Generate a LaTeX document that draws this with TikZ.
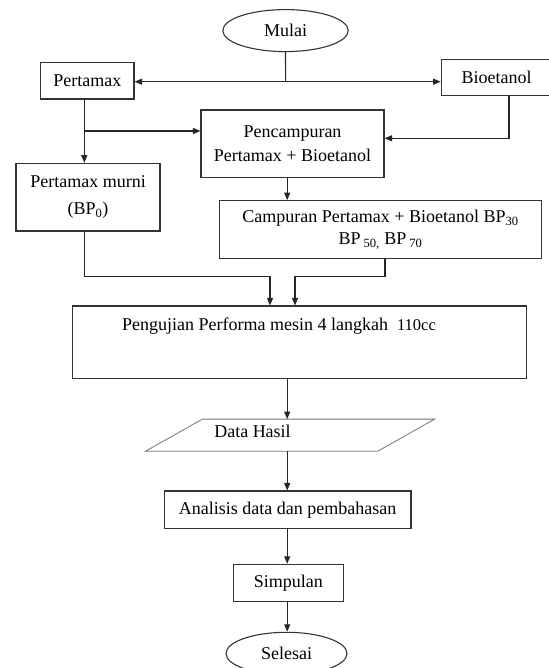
\documentclass[tikz,border=0pt]{standalone}
\usepackage{fontspec}
\setmainfont{Liberation Serif}
\usetikzlibrary{arrows.meta,shapes.geometric,calc}
\begin{document}
\begin{tikzpicture}[x=1pt,y=-1pt,
  every node/.style={font=\fontsize{18}{21.6}\selectfont, text=black},
  box/.style={draw=black!80, line width=1.1pt, rectangle, inner sep=0pt, align=center},
  term/.style={draw=black!80, line width=1.1pt, ellipse, inner sep=0pt},
  conn/.style={draw=black!85, line width=1.1pt},
  arr/.style={conn, -{Triangle[length=7.5pt,width=6pt]}}]
\useasboundingbox (0,0) rectangle (548,668);

% nodes
\node[term, minimum width=125.4pt, minimum height=42pt] (mulai) at (285.5,30.6) {Mulai};
\node[box, minimum width=93.3pt, minimum height=36.3pt] (pertamax) at (87.35,80.85) {Pertamax};
\node[box, minimum width=110.7pt, minimum height=36.4pt] (bio) at (496.6,77.5) {Bioetanol};
\node[box, minimum width=183pt, minimum height=67.3pt] (pencamp) at (292.5,143.65) {Pencampuran\\[3pt]Pertamax + Bioetanol};
\node[box, minimum width=144pt, minimum height=67.7pt] (murni) at (88,197.15) {Pertamax murni\\[5pt](BP\textsubscript{0})};
\node[box, minimum width=322.4pt, minimum height=58pt] (camp) at (380.5,229.7) {Campuran Pertamax + Bioetanol BP\textsubscript{30}\\BP\,\textsubscript{50,} BP\,\textsubscript{70}};
\node[box, minimum width=453.6pt, minimum height=72.4pt] (peng) at (299.5,342.2) {};
\node (pengtxt) at (279,326) {Pengujian Performa mesin 4 langkah\ \ {\fontsize{16.5}{20}\selectfont 110cc}};
\node[inner sep=0pt, minimum width=288.8pt, minimum height=31.7pt] (data) at (290.1,435.15) {};
\draw[draw=black!55, line width=0.8pt] ($(data.north west)+(57,0)$) -- (data.north east) -- ($(data.south east)-(57,0)$) -- (data.south west) -- cycle;
\node (datatxt) at (252.5,431) {Data Hasil};
\node[box, minimum width=246.7pt, minimum height=37.7pt] (ana) at (287.65,509.85) {Analisis data dan pembahasan};
\node[box, minimum width=110pt, minimum height=37.4pt] (simp) at (288.3,583) {Simpulan};
\node[term, minimum width=121pt, minimum height=42.4pt] (sel) at (286.5,653.5) {Selesai};

% connectors
\coordinate (j1) at (285.6,81.7);
\draw[conn] (mulai.south) -- (j1);
\draw[arr] (j1) -- (j1 -| pertamax.east);
\draw[arr] (j1) -- (j1 -| bio.west);
\coordinate (p1) at (84.3,131);
\draw[arr] (p1 |- pertamax.south) -- (p1 |- murni.north);
\draw[arr] (p1) -- (p1 -| pencamp.west);
\coordinate (b1) at (509,138.3);
\draw[arr] (b1 |- bio.south) -- (b1) -- (b1 -| pencamp.east);
\coordinate (ax) at (287.2,0);
\draw[arr] (ax |- pencamp.south) -- (ax |- camp.north);
\coordinate (m1) at (84.3,276.7);
\coordinate (m2) at (270,276.7);
\draw[arr] (m1 |- murni.south) -- (m1) -- (m2) -- (m2 |- peng.north);
\coordinate (c1) at (385,276.3);
\coordinate (c2) at (295,276.3);
\draw[arr] (c1 |- camp.south) -- (c1) -- (c2) -- (c2 |- peng.north);
\draw[arr] (ax |- peng.south) -- (ax |- data.north);
\draw[arr] (ax |- data.south) -- (ax |- ana.north);
\draw[arr] (ax |- ana.south) -- (ax |- simp.north);
\draw[arr] (ax |- simp.south) -- (ax |- sel.north);
\end{tikzpicture}
\end{document}
